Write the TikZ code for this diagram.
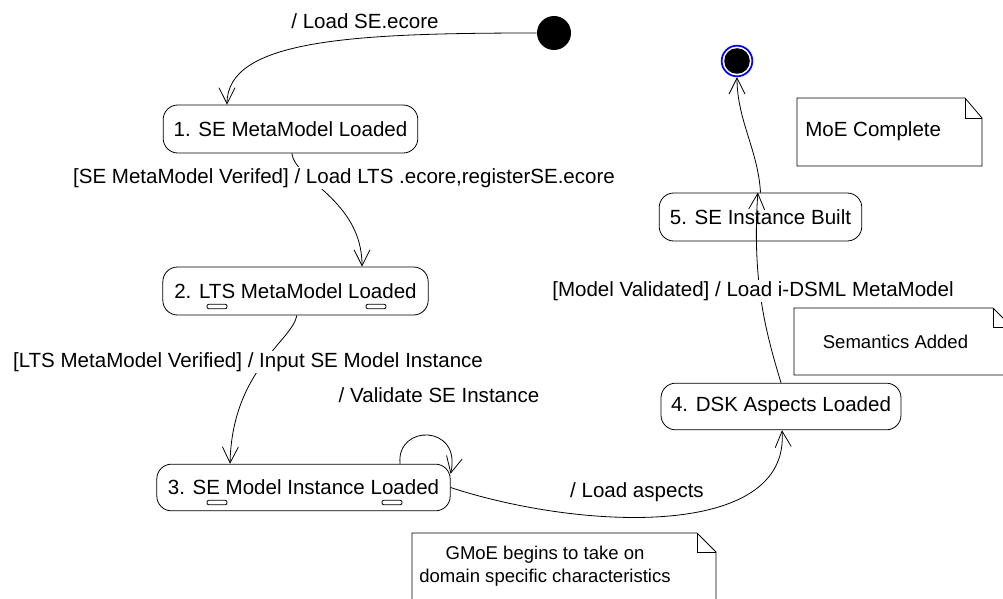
\documentclass[tikz,border=0pt]{standalone}
\usepackage{fontspec}
\setmainfont{Liberation Sans}
\usetikzlibrary{arrows.meta}
\tikzset{
    state/.style={draw, line width=0.6pt, rounded corners=11pt, minimum height=36pt, inner sep=0pt, font=\fontsize{15.4}{18}\selectfont},
    trans/.style={-{Straight Barb[length=12pt,width=12pt]}, line width=0.6pt},
    lbl/.style={fill=white, inner sep=1pt, font=\fontsize{15.4}{18}\selectfont},
    handle/.style={draw, line width=0.6pt, rounded corners=1.5pt, minimum width=15pt, minimum height=3.5pt, inner sep=0pt},
    notebox/.style={line width=0.6pt},
    notetext/.style={font=\fontsize{13.9}{17.3}\selectfont, align=center, inner sep=0pt}
}
\begin{document}
\begin{tikzpicture}[x=0.75pt, y=-0.75pt]
                    \useasboundingbox (0,0) rectangle (1003,599);
                    % states
                    \node[circle, fill=black, minimum size=25.5pt, inner sep=0pt] (init) at (554,33) {};
                    \node[state, minimum width=191pt] (s1) at (290.5,129) {1. SE MetaModel Loaded};
                    \node[state, minimum width=199pt] (s2) at (295.5,291) {2. LTS MetaModel Loaded};
                    \node[state, minimum width=220pt, minimum height=35pt] (s3) at (303.5,487.5) {3. SE Model Instance Loaded};
                    \node[state, minimum width=180pt, minimum height=35pt] (s4) at (781,406.5) {4. DSK Aspects Loaded};
                    \node[state, minimum width=152pt] (s5) at (760.5,217) {5. SE Instance Built};
                    \node[circle, draw=blue, line width=1.3pt, fill=white, minimum size=23pt, inner sep=0pt] (fin) at (737,61) {};
                    \fill[black] (fin.center) circle (9.6pt);
                    \node[handle] (h2a) at (217,306.5) {};
                    \node[handle] (h2b) at (376,306.5) {};
                    \node[handle] (h3a) at (217,502.5) {};
                    \node[handle] (h3b) at (392,502.5) {};
                    % transitions
                    \draw[trans] (init.west) .. controls (350,33) and (227,40) .. ([xshift=-47.6pt]s1.north);
                    \draw[trans] ([xshift=1pt]s1.south) .. controls (295,180) and (362,200) .. ([xshift=49.9pt]s2.north);
                    \draw[trans] ([xshift=1pt]s2.south) .. controls (293,340) and (232,370) .. ([xshift=-55.1pt]s3.north);
                    \draw[trans] ([xshift=72.4pt]s3.north) .. controls (396,424) and (462,424) .. ([yshift=-7.5pt]s3.north east);
                    \draw[trans] (s3.east) .. controls (580,530) and (790,540) .. ([xshift=0.75pt]s4.south);
                    \draw[trans] (s4.north) .. controls (765,330) and (752,280) .. ([xshift=-2pt]s5.north);
                    \draw[trans] (s5.north) .. controls (758,150) and (737,120) .. (fin.south);
                    % labels
                    \node[lbl] (l0) at (365,21) {/ Load SE.ecore};
                    \node[lbl] (l1) at (344,178) {[SE MetaModel Verifed] / Load LTS .ecore,registerSE.ecore};
                    \node[lbl] (l2) at (248,362) {[LTS MetaModel Verified] / Input SE Model Instance};
                    \node[lbl] (l3) at (439,395) {/ Validate SE Instance};
                    \node[lbl] (l4) at (637,492) {/ Load aspects};
                    \node[lbl] (l5) at (753,291) {[Model Validated] / Load i-DSML MetaModel};
                    % notes
                    \draw[notebox] (797,98) -- (965,98) -- (982,118) -- (982,166) -- (797,166) -- cycle;
                    \draw[notebox] (965,98) -- (965,118) -- (982,118);
                    \node[anchor=west, inner sep=0pt, font=\fontsize{15.4}{18}\selectfont] (moe) at (805,131) {MoE Complete};
                    \draw[notebox] (794,308) -- (993,308) -- (1012,327) -- (1012,375) -- (794,375) -- cycle;
                    \draw[notebox] (993,308) -- (993,327) -- (1012,327);
                    \node[notetext] (sem) at (895.5,342) {Semantics Added};
                    \draw[notebox] (412,533) -- (697,533) -- (716,552) -- (716,615) -- (412,615) -- cycle;
                    \draw[notebox] (697,533) -- (697,552) -- (716,552);
                    \node[notetext] (gmoe) at (545,566.5) {GMoE begins to take on\\domain specific characteristics};
\end{tikzpicture}
\end{document}
